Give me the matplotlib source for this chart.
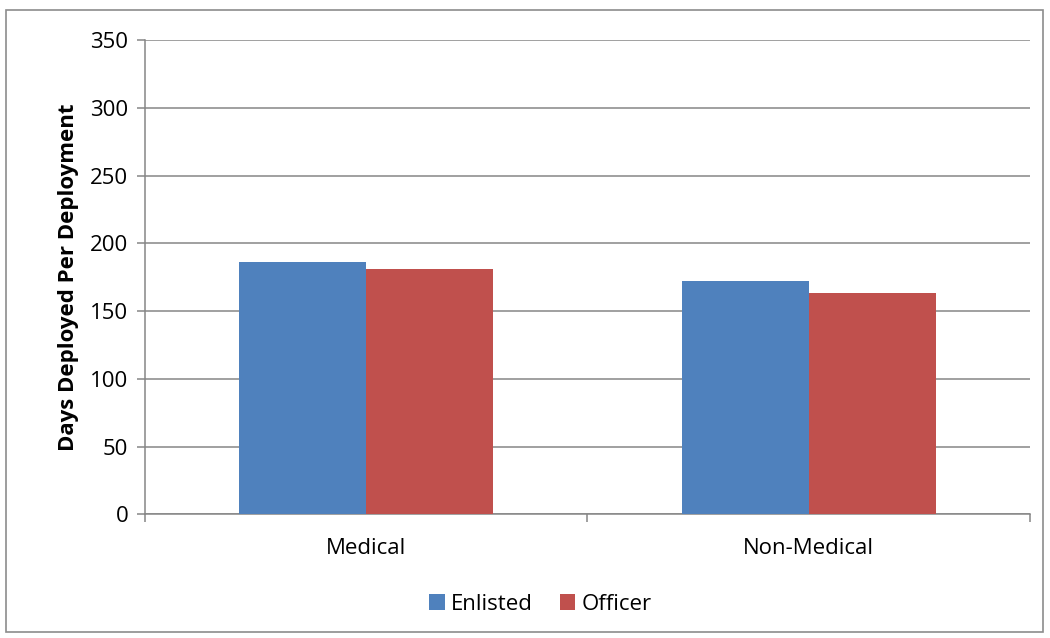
import numpy as np
import matplotlib.pyplot as plt
from matplotlib.patches import Rectangle

categorias = ["Medical", "Non-Medical"]
enlisted = [186, 172.3]
officer = [181, 163.4]
series = ["Enlisted", "Officer"]
yticks = [0, 50, 100, 150, 200, 250, 300, 350]

plt.rcParams['font.family'] = ['Open Sans', 'DejaVu Sans']

fig = plt.figure(figsize=(10.5, 6.38), dpi=100)
ax = fig.add_axes([0.138, 0.194, 0.843, 0.743])

# marco exterior del grafico
fig.patches.append(Rectangle((6 / 1050, 6 / 638), 1037 / 1050, 622 / 638,
                             transform=fig.transFigure, fill=False,
                             edgecolor='#8c8c8c', linewidth=1.2))

x = np.arange(len(categorias))
w = 0.287
ax.bar(x - w / 2, enlisted, w, color='#4f81bd', label=series[0], zorder=3)
ax.bar(x + w / 2, officer, w, color='#c0504d', label=series[1], zorder=3)

ax.set_xlim(-0.5, 1.5)
ax.set_ylim(0, 350)
ax.set_yticks(yticks)
ax.yaxis.grid(True, color='#868686', linewidth=1.1, zorder=0)
ax.set_xticks(x)
ax.set_xticklabels(categorias)
ax.set_xticks([-0.5, 0.5, 1.5], minor=True)
ax.tick_params(axis='x', which='major', length=0, pad=17, labelsize=16)
ax.tick_params(axis='x', which='minor', length=6, color='#868686', width=1.1)
ax.tick_params(axis='y', length=6, color='#868686', width=1.1, labelsize=16, pad=6)

for s in ['top', 'right']:
    ax.spines[s].set_visible(False)
for s in ['left', 'bottom']:
    ax.spines[s].set_color('#868686')
    ax.spines[s].set_linewidth(1.1)

ax.set_ylabel('Days Deployed Per Deployment', fontsize=16, fontweight='bold', labelpad=8)

ax.legend(loc='center', bbox_to_anchor=(0.447, -0.19), ncol=2, frameon=False,
          fontsize=16, handlelength=0.7, handleheight=0.7, handletextpad=0.3,
          columnspacing=1.2)

fig.savefig('out.png', dpi=100)
